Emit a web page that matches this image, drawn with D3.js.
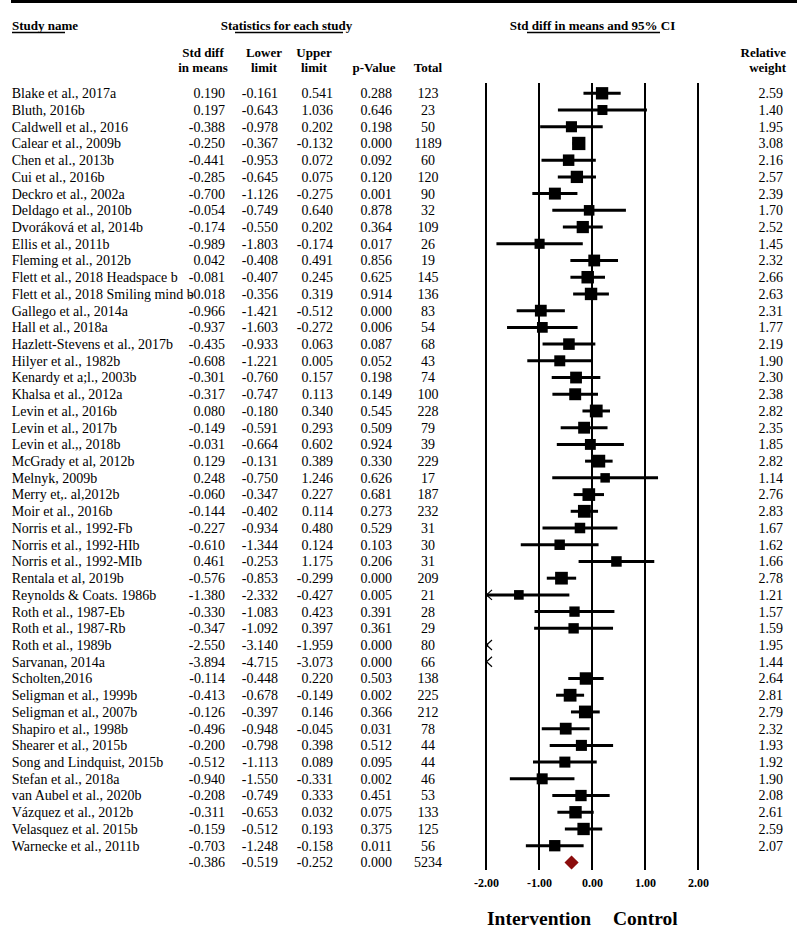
<!DOCTYPE html>
<html>
<head>
<meta charset="utf-8">
<script src="https://cdn.jsdelivr.net/npm/d3@7"></script>
<style>
  html, body { margin: 0; padding: 0; background: #fff; }
  svg { display: block; font-family: "Liberation Serif", "Times New Roman", serif; }
</style>
</head>
<body>
<svg id="chart" width="797" height="935"></svg>
<script>
const studyNames = [
  "Blake et al., 2017a", "Bluth, 2016b", "Caldwell et al., 2016", "Calear et al., 2009b",
  "Chen et al., 2013b", "Cui et al., 2016b", "Deckro et al., 2002a", "Deldago et al., 2010b",
  "Dvoráková et al, 2014b", "Ellis et al., 2011b", "Fleming et al., 2012b",
  "Flett et al., 2018 Headspace b", "Flett et al., 2018 Smiling mind b", "Gallego et al., 2014a",
  "Hall et al., 2018a", "Hazlett-Stevens et al., 2017b", "Hilyer et al., 1982b",
  "Kenardy et a;l., 2003b", "Khalsa et al., 2012a", "Levin et al., 2016b", "Levin et al., 2017b",
  "Levin et al.,, 2018b", "McGrady et al, 2012b", "Melnyk, 2009b", "Merry et,. al,2012b",
  "Moir et al., 2016b", "Norris et al., 1992-Fb", "Norris et al., 1992-HIb", "Norris et al., 1992-MIb",
  "Rentala et al, 2019b", "Reynolds & Coats. 1986b", "Roth et al., 1987-Eb", "Roth et al., 1987-Rb",
  "Roth et al., 1989b", "Sarvanan, 2014a", "Scholten,2016", "Seligman et al., 1999b",
  "Seligman et al., 2007b", "Shapiro et al., 1998b", "Shearer et al., 2015b",
  "Song and Lindquist, 2015b", "Stefan et al., 2018a", "van Aubel et al., 2020b",
  "Vázquez et al., 2012b", "Velasquez et al. 2015b", "Warnecke et al., 2011b"
];
const stdDiff = [0.190, 0.197, -0.388, -0.250, -0.441, -0.285, -0.700, -0.054, -0.174, -0.989, 0.042,
  -0.081, -0.018, -0.966, -0.937, -0.435, -0.608, -0.301, -0.317, 0.080, -0.149, -0.031, 0.129, 0.248,
  -0.060, -0.144, -0.227, -0.610, 0.461, -0.576, -1.380, -0.330, -0.347, -2.550, -3.894, -0.114,
  -0.413, -0.126, -0.496, -0.200, -0.512, -0.940, -0.208, -0.311, -0.159, -0.703];
const lowerLimit = [-0.161, -0.643, -0.978, -0.367, -0.953, -0.645, -1.126, -0.749, -0.550, -1.803, -0.408,
  -0.407, -0.356, -1.421, -1.603, -0.933, -1.221, -0.760, -0.747, -0.180, -0.591, -0.664, -0.131, -0.750,
  -0.347, -0.402, -0.934, -1.344, -0.253, -0.853, -2.332, -1.083, -1.092, -3.140, -4.715, -0.448,
  -0.678, -0.397, -0.948, -0.798, -1.113, -1.550, -0.749, -0.653, -0.512, -1.248];
const upperLimit = [0.541, 1.036, 0.202, -0.132, 0.072, 0.075, -0.275, 0.640, 0.202, -0.174, 0.491,
  0.245, 0.319, -0.512, -0.272, 0.063, 0.005, 0.157, 0.113, 0.340, 0.293, 0.602, 0.389, 1.246,
  0.227, 0.114, 0.480, 0.124, 1.175, -0.299, -0.427, 0.423, 0.397, -1.959, -3.073, 0.220,
  -0.149, 0.146, -0.045, 0.398, 0.089, -0.331, 0.333, 0.032, 0.193, -0.158];
const pValues = [0.288, 0.646, 0.198, 0.000, 0.092, 0.120, 0.001, 0.878, 0.364, 0.017, 0.856,
  0.625, 0.914, 0.000, 0.006, 0.087, 0.052, 0.198, 0.149, 0.545, 0.509, 0.924, 0.330, 0.626,
  0.681, 0.273, 0.529, 0.103, 0.206, 0.000, 0.005, 0.391, 0.361, 0.000, 0.000, 0.503,
  0.002, 0.366, 0.031, 0.512, 0.095, 0.002, 0.451, 0.075, 0.375, 0.011];
const totals = [123, 23, 50, 1189, 60, 120, 90, 32, 109, 26, 19, 145, 136, 83, 54, 68, 43, 74, 100, 228,
  79, 39, 229, 17, 187, 232, 31, 30, 31, 209, 21, 28, 29, 80, 66, 138, 225, 212, 78, 44, 44, 46, 53,
  133, 125, 56];
const relWeights = [2.59, 1.40, 1.95, 3.08, 2.16, 2.57, 2.39, 1.70, 2.52, 1.45, 2.32, 2.66, 2.63, 2.31,
  1.77, 2.19, 1.90, 2.30, 2.38, 2.82, 2.35, 1.85, 2.82, 1.14, 2.76, 2.83, 1.67, 1.62, 1.66, 2.78, 1.21,
  1.57, 1.59, 1.95, 1.44, 2.64, 2.81, 2.79, 2.32, 1.93, 1.92, 1.90, 2.08, 2.61, 2.59, 2.07];
// summary: std diff, lower, upper, p-value, total
const summaryStats = [-0.386, -0.519, -0.252, 0.000, 5234];
const axisTicks = [-2, -1, 0, 1, 2];

const fmt3 = v => d3.format(".3f")(v).replace("\u2212", "-");
const fmt2 = v => d3.format(".2f")(v).replace("\u2212", "-");

const svg = d3.select("#chart");
const n = studyNames.length;

const x = d3.scaleLinear().domain([-2, 2]).range([486, 698]);
const y = d3.scaleLinear().domain([0, n]).range([93.3, 93.3 + n * 16.72]);
const sq = d3.scaleLinear().domain([1.4, 3.08]).range([10, 13.3]);

// top rule
svg.append("rect").attr("x", 11).attr("y", 0).attr("width", 786).attr("height", 3).attr("fill", "#000");

// headers
const hdr = svg.append("g").attr("font-weight", "bold").attr("font-size", 13).attr("fill", "#000");
hdr.append("text").attr("x", 12).attr("y", 30).text("Study name");
hdr.append("text").attr("x", 286.5).attr("y", 30).attr("text-anchor", "middle").text("Statistics for each study");
hdr.append("text").attr("x", 592.5).attr("y", 30).attr("text-anchor", "middle").text("Std diff in means and 95% CI");
const colHeads = [
  {x: 203, lines: ["Std diff", "in means"]},
  {x: 264, lines: ["Lower", "limit"]},
  {x: 314, lines: ["Upper", "limit"]},
  {x: 374, lines: ["", "p-Value"]},
  {x: 428, lines: ["", "Total"]}
];
colHeads.forEach(c => {
  c.lines.forEach((t, i) => {
    hdr.append("text").attr("x", c.x).attr("y", 57 + i * 15).attr("text-anchor", "middle").text(t);
  });
});
hdr.append("text").attr("x", 786).attr("y", 57).attr("text-anchor", "end").text("Relative");
hdr.append("text").attr("x", 786).attr("y", 72).attr("text-anchor", "end").text("weight");

// underlines
[[12, 65], [235, 343], [527, 660]].forEach(([a, b]) => {
  svg.append("line").attr("x1", a).attr("x2", b).attr("y1", 32.5).attr("y2", 32.5)
    .attr("stroke", "#000").attr("stroke-width", 1.5);
});

// vertical reference lines
svg.append("g").selectAll("line").data(axisTicks).join("line")
  .attr("x1", d => x(d)).attr("x2", d => x(d))
  .attr("y1", 83).attr("y2", 870)
  .attr("stroke", "#000").attr("stroke-width", 2);

// axis labels
const axis = d3.axisBottom(x).tickValues(axisTicks).tickFormat(fmt2).tickSize(0).tickPadding(0);
const axG = svg.append("g").attr("transform", "translate(0,878.5)").call(axis);
axG.select(".domain").remove();
axG.selectAll("text").attr("font-family", "Liberation Serif, Times New Roman, serif")
  .attr("font-weight", "bold").attr("font-size", 12).attr("fill", "#000");

// table rows
const rows = svg.append("g").attr("font-size", 14).attr("fill", "#000");
const idx = d3.range(n);
rows.selectAll("text.name").data(idx).join("text").attr("class", "name")
  .attr("x", 11.7).attr("y", i => y(i)).attr("dy", "0.35em").text(i => studyNames[i]);
const numCols = [
  {arr: stdDiff, x: 225, anchor: "end", f: fmt3},
  {arr: lowerLimit, x: 278, anchor: "end", f: fmt3},
  {arr: upperLimit, x: 333, anchor: "end", f: fmt3},
  {arr: pValues, x: 392, anchor: "end", f: fmt3},
  {arr: totals, x: 428, anchor: "middle", f: d => String(d)},
  {arr: relWeights, x: 783, anchor: "end", f: fmt2}
];
numCols.forEach(c => {
  rows.append("g").selectAll("text").data(idx).join("text")
    .attr("x", c.x).attr("y", i => y(i)).attr("dy", "0.35em").attr("text-anchor", c.anchor)
    .text(i => c.f(c.arr[i]));
});
// summary row values
numCols.slice(0, 5).forEach((c, k) => {
  rows.append("text").attr("x", c.x).attr("y", y(n)).attr("dy", "0.35em").attr("text-anchor", c.anchor)
    .text(k < 4 ? fmt3(summaryStats[k]) : String(summaryStats[k]));
});

// CI lines
const marks = svg.append("g");
idx.forEach(i => {
  const lo = Math.max(lowerLimit[i], -2), hi = Math.min(upperLimit[i], 2);
  if (hi > lo) {
    marks.append("line").attr("x1", x(lo)).attr("x2", x(hi)).attr("y1", y(i)).attr("y2", y(i))
      .attr("stroke", "#000").attr("stroke-width", 3);
  }
  if (lowerLimit[i] < -2) {
    const x0 = x(-2), yy = y(i);
    marks.append("path").attr("d", `M${x0 + 6},${yy - 5}L${x0 + 0.5},${yy}L${x0 + 6},${yy + 5}`)
      .attr("fill", "none").attr("stroke", "#000").attr("stroke-width", 1.2);
  }
  if (upperLimit[i] > 2) {
    const x0 = x(2), yy = y(i);
    marks.append("path").attr("d", `M${x0 - 6},${yy - 5}L${x0 - 0.5},${yy}L${x0 - 6},${yy + 5}`)
      .attr("fill", "none").attr("stroke", "#000").attr("stroke-width", 1.2);
  }
  if (stdDiff[i] >= -2 && stdDiff[i] <= 2) {
    const s = sq(relWeights[i]);
    marks.append("rect").attr("x", x(stdDiff[i]) - s / 2).attr("y", y(i) - s / 2)
      .attr("width", s).attr("height", s).attr("fill", "#000");
  }
});

// summary diamond
const yd = y(n);
svg.append("path")
  .attr("d", `M${x(summaryStats[1])},${yd}L${x(summaryStats[0])},${yd - 7}L${x(summaryStats[2])},${yd}L${x(summaryStats[0])},${yd + 7}Z`)
  .attr("fill", "#8b0d0d");

// direction labels
const dir = svg.append("g").attr("font-weight", "bold").attr("font-size", 19.5).attr("fill", "#000");
dir.append("text").attr("x", 487).attr("y", 925).text("Intervention");
dir.append("text").attr("x", 613).attr("y", 925).text("Control");
</script>
</body>
</html>
